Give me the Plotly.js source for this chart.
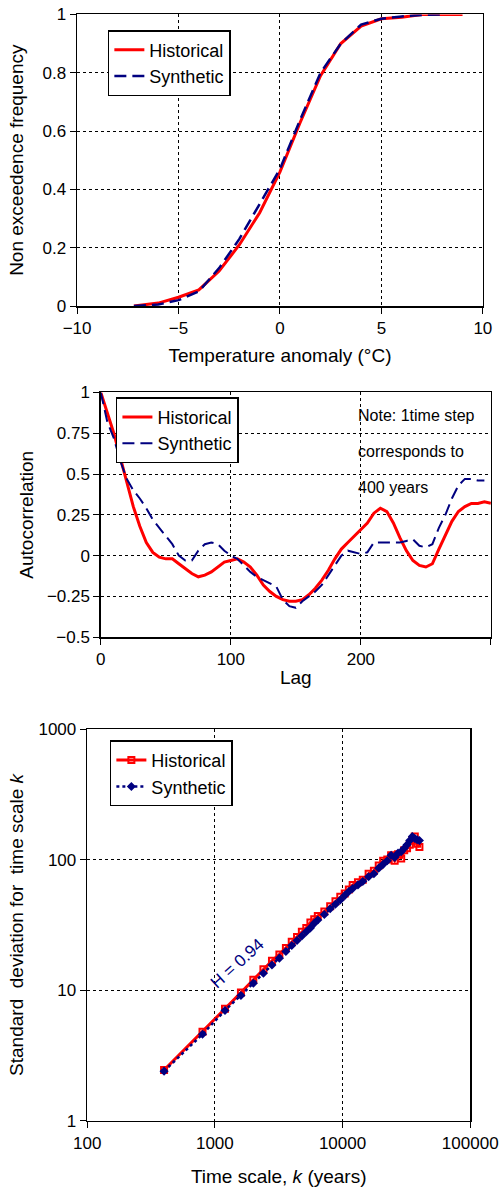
<!DOCTYPE html>
<html>
<head>
<meta charset="utf-8">
<script src="https://cdn.plot.ly/plotly-3.0.1.min.js"></script>
<style>body{margin:0;background:#fff}</style>
</head>
<body>
<div id="plot" style="width:504px;height:1200px"></div>
<script>
// Panel 1: empirical distribution of temperature anomaly
var cdfHistX = [-7.2, -6, -5, -4, -3, -2, -1, 0, 1, 2, 3, 4, 5, 6, 7, 8, 9];
var cdfHistY = [0, 0.01, 0.03, 0.055, 0.12, 0.21, 0.32, 0.46, 0.63, 0.79, 0.9, 0.96, 0.985, 0.99, 1, 1, 1];
var cdfSynX = [-7.2, -6, -5, -4, -3, -2, -1, 0, 1, 2, 3, 4, 5, 6, 7, 8];
var cdfSynY = [0, 0.005, 0.02, 0.05, 0.13, 0.23, 0.35, 0.47, 0.64, 0.8, 0.9, 0.965, 0.985, 0.993, 0.998, 1];

// Panel 2: autocorrelation
var lags = [0,5,10,15,20,25,30,35,40,45,50,55,60,65,70,75,80,85,90,95,100,105,110,115,120,125,130,135,140,145,150,155,160,165,170,175,180,185,190,195,200,205,210,215,220,225,230,235,240,245,250,255,260,265,270,275,280,285,290,295,300];
var acHist = [1,0.88,0.75,0.6,0.45,0.3,0.18,0.08,0.02,-0.01,-0.02,-0.02,-0.05,-0.08,-0.11,-0.13,-0.12,-0.1,-0.07,-0.04,-0.03,-0.02,-0.04,-0.07,-0.12,-0.18,-0.22,-0.25,-0.27,-0.28,-0.28,-0.27,-0.24,-0.2,-0.15,-0.09,-0.02,0.04,0.08,0.12,0.16,0.2,0.26,0.29,0.27,0.2,0.11,0.03,-0.03,-0.06,-0.07,-0.05,0.04,0.13,0.21,0.27,0.3,0.32,0.32,0.33,0.32];
var acSyn = [1,0.82,0.72,0.58,0.47,0.4,0.35,0.29,0.22,0.17,0.12,0.07,0.0,-0.03,-0.03,0.03,0.07,0.08,0.07,0.03,0.0,-0.02,-0.06,-0.1,-0.13,-0.15,-0.17,-0.19,-0.27,-0.31,-0.32,-0.28,-0.25,-0.22,-0.18,-0.12,-0.06,0.0,0.03,0.02,0.01,0.02,0.08,0.08,0.08,0.08,0.08,0.09,0.1,0.06,0.05,0.07,0.17,0.25,0.35,0.43,0.47,0.47,0.46,0.46];

// Panel 3: climacogram
var scales = [400,800,1200,1600,2000,2400,2800,3200,3600,4000,4400,4800,5200,5600,6000,6400,7200,8000,8800,9600,10400,11200,12000,13200,14400,16000,17600,19200,20800,22400,24000,25600,27200,28800,30400,32000,33600,35200,36800,38400,40000];
var sdHist = [2.45,4.8,7.2,9.6,12,14.5,16.8,18.8,21,23.5,25.5,28,30,33,35,37,40,44,48,52,55,59,64,67,70,78,82,90,98,100,108,98,110,102,118,122,130,140,150,132,125];
var sdSyn = [2.4,4.6,7.0,9.1,11.3,13.5,15.6,17.6,19.8,22,24,26,28,30,32.5,34.5,38,42,45.5,49,53,57,60,64,68,74,78,86,92,98,108,104,112,115,122,130,140,150,145,142,140];

var RED = '#ff0000', NAVY = '#000080';
var FONT = 'Liberation Sans, Arial, sans-serif';

function ax(extra) {
    var a = {
        showline: true, mirror: true, linecolor: '#000', linewidth: 1.5,
        ticks: 'outside', ticklen: 6, tickcolor: '#000',
        showgrid: true, gridcolor: '#000', griddash: 'dot', gridwidth: 1,
        zeroline: false, tickfont: { size: 17, color: '#000' }
    };
    for (var k in extra) a[k] = extra[k];
    return a;
}
function lg(x, y) {
    return { x: x, y: y, xref: 'paper', yref: 'paper', xanchor: 'left', yanchor: 'top', bgcolor: '#fff',
        bordercolor: '#000', borderwidth: 1.5, font: { size: 18, color: '#000' },
        tracegroupgap: 0 };
}

var data = [
    { x: cdfHistX, y: cdfHistY, name: 'Historical', mode: 'lines', line: { color: RED, width: 3 }, xaxis: 'x', yaxis: 'y', legend: 'legend' },
    { x: cdfSynX, y: cdfSynY, name: 'Synthetic', mode: 'lines', line: { color: NAVY, width: 2.5, dash: '12px,6px' }, xaxis: 'x', yaxis: 'y', legend: 'legend' },
    { x: lags, y: acHist, name: 'Historical', mode: 'lines', line: { color: RED, width: 3 }, xaxis: 'x2', yaxis: 'y2', legend: 'legend2' },
    { x: lags.slice(0, acSyn.length), y: acSyn, name: 'Synthetic', mode: 'lines', line: { color: NAVY, width: 2, dash: '12px,6px' }, xaxis: 'x2', yaxis: 'y2', legend: 'legend2' },
    { x: scales, y: sdHist, name: 'Historical', mode: 'lines+markers', line: { color: RED, width: 3 }, marker: { symbol: 'square-open', size: 6, color: RED, line: { width: 2, color: RED } }, xaxis: 'x3', yaxis: 'y3', legend: 'legend3' },
    { x: scales, y: sdSyn, name: 'Synthetic', mode: 'lines+markers', line: { color: NAVY, width: 2.5, dash: 'dot' }, marker: { symbol: 'diamond', size: 7, color: NAVY }, xaxis: 'x3', yaxis: 'y3', legend: 'legend3' }
];

var layout = {
    width: 504, height: 1200, margin: { l: 0, r: 0, t: 0, b: 0 },
    paper_bgcolor: '#fff', plot_bgcolor: '#fff',
    font: { family: FONT, color: '#000' },
    xaxis: ax({ domain: [0.153, 0.958], anchor: 'y', range: [-10, 10], dtick: 5, tickformat: '~g',
        title: { text: 'Temperature anomaly (°C)', font: { size: 19 }, standoff: 12 } }),
    yaxis: ax({ domain: [0.745, 0.988], anchor: 'x', range: [0, 1], dtick: 0.2, tickformat: '~g',
        title: { text: 'Non exceedence frequency', font: { size: 19 }, standoff: 14 } }),
    xaxis2: ax({ domain: [0.200, 0.974], anchor: 'y2', range: [0, 300], dtick: 100,
        title: { text: 'Lag', font: { size: 19 }, standoff: 2 } }),
    yaxis2: ax({ domain: [0.469, 0.673], anchor: 'x2', range: [-0.5, 1], dtick: 0.25, tickformat: '~g',
        title: { text: 'Autocorrelation', font: { size: 19 }, standoff: 8 } }),
    xaxis3: ax({ domain: [0.173, 0.933], anchor: 'y3', type: 'log', range: [2, 5], dtick: 1,
        tickformat: 'd', title: { text: 'Time scale, <i>k</i> (years)', font: { size: 19 }, standoff: 18 } }),
    yaxis3: ax({ domain: [0.066, 0.3925], anchor: 'x3', type: 'log', range: [0, 3], dtick: 1,
        tickformat: 'd', title: { text: 'Standard  deviation for  time scale <i>k</i>', font: { size: 19 }, standoff: 10 } }),
    legend: lg(0.214, 0.975),
    legend2: lg(0.23, 0.669),
    legend3: lg(0.218, 0.383),
    annotations: [
        { xref: 'x2', yref: 'y2', x: 196, y: 0.86, text: 'Note: 1time step', showarrow: false, xanchor: 'left', font: { size: 16 } },
        { xref: 'x2', yref: 'y2', x: 196, y: 0.64, text: 'corresponds to', showarrow: false, xanchor: 'left', font: { size: 16 } },
        { xref: 'x2', yref: 'y2', x: 196, y: 0.42, text: '400 years', showarrow: false, xanchor: 'left', font: { size: 16 } },
        { xref: 'x3', yref: 'y3', x: Math.log10(1500), y: Math.log10(16), text: 'H = 0.94', showarrow: false, textangle: -42, font: { size: 17, color: NAVY } }
    ],
    showlegend: true
};

Plotly.newPlot('plot', data, layout, { displayModeBar: false, staticPlot: true });
</script>
</body>
</html>
